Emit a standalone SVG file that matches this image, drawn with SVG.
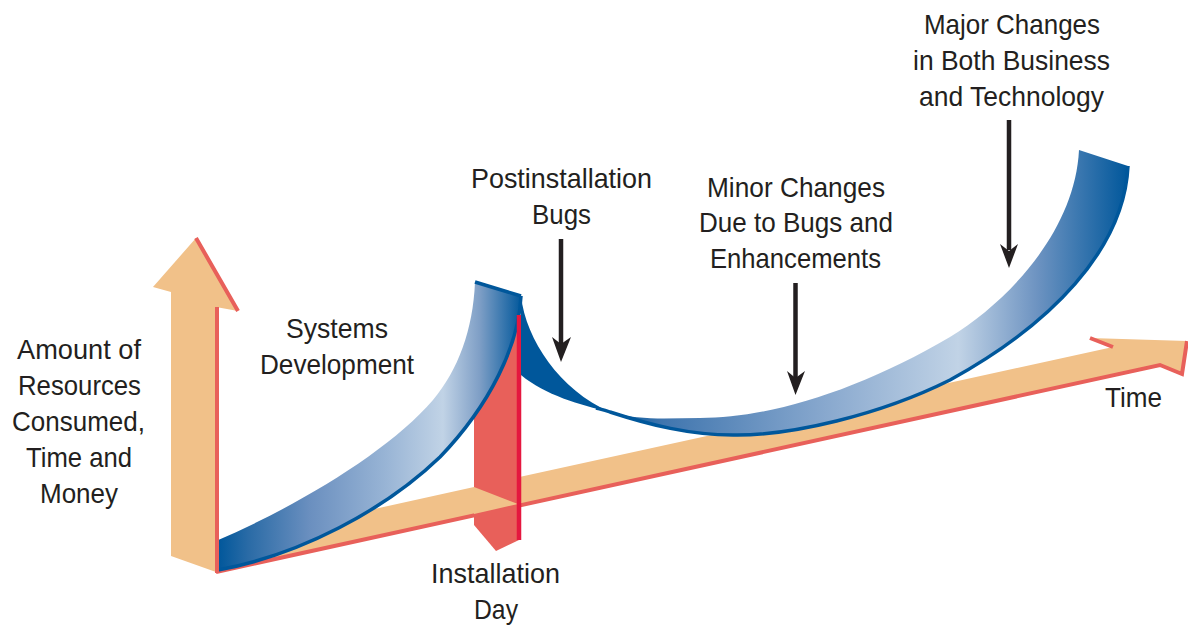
<svg xmlns="http://www.w3.org/2000/svg" width="1188" height="629" viewBox="0 0 1188 629">
<style>
text{font-family:"Liberation Sans",Arial,sans-serif;font-size:28.5px;fill:#231f20}
.tan{fill:#f1c189}
.red{fill:none;stroke:#e8605a;stroke-width:4}
.edge{fill:none;stroke:#00579b;stroke-width:3.5;stroke-linejoin:round}
.blk{fill:#231f20}
.shaft{stroke:#231f20;stroke-width:4.5}
</style>
<defs>
<linearGradient id="g1" gradientUnits="userSpaceOnUse" x1="218" y1="0" x2="522" y2="0">
<stop offset="0" stop-color="#00579b"/><stop offset=".1" stop-color="#2a6ba6"/><stop offset=".3" stop-color="#6a8fbf"/><stop offset=".55" stop-color="#98b4d5"/><stop offset=".74" stop-color="#c1d3e6"/><stop offset=".86" stop-color="#7f9fc6"/><stop offset="1" stop-color="#00579b"/>
</linearGradient>
<linearGradient id="g2" gradientUnits="userSpaceOnUse" x1="522" y1="0" x2="1128" y2="0">
<stop offset="0" stop-color="#00579b"/><stop offset=".15" stop-color="#00579b"/><stop offset=".23" stop-color="#3f75ae"/><stop offset=".5" stop-color="#88a8ce"/><stop offset=".72" stop-color="#c1d3e6"/><stop offset=".85" stop-color="#6d93c1"/><stop offset="1" stop-color="#00579b"/>
</linearGradient>
</defs>
<g id="time-axis">
<path class="tan" d="M216 572L216 544L474 487L1113 347L1090 338L1187 341L1182 374L1160 365Z"/>
<path class="red" d="M216 572L1160 365L1182 374L1187 341M1090 338L1113 347"/>
</g>
<g id="installation-day">
<path fill="#e8605a" d="M474 400V525L496 551L519 540V310Z"/>
<path class="tan" d="M474 487L518 504L474 514Z"/>
</g>
<g id="systems-development">
<path fill="url(#g1)" d="M216 541C300 505 390 450 433 400C458 370 473 330 475 282L521 296C519 345 490 405 440 457C385 510 300 555 216 571Z"/>
<path class="edge" d="M521 296C519 345 490 405 440 457C385 510 300 555 218 570"/>
<path class="edge" d="M475 282L521 296"/>
</g>
<g id="resources-axis">
<path class="tan" d="M196 238L153 287L171 292V556L216 572V307L238 311Z"/>
<path class="red" d="M217 307V573M196 238L238 311"/>
</g>
<g id="installation-line">
<path fill="none" stroke="#e5173f" stroke-width="4.5" d="M519 315V540"/>
</g>
<g id="maintenance">
<path fill="url(#g2)" d="M521 296C526 340 560 390 610 412C640 421 670 418 700 418C770 418 860 390 950 337C1010 300 1075 230 1079 150L1128 166C1124 250 1050 325 950 380C880 415 790 436 733 435C690 435 650 425 610 412C580 405 545 395 521 375Z"/>
<path class="edge" stroke-width="3" d="M596 408C600 409 605 410 610 412C650 425 690 435 733 435C790 436 880 415 950 380C1050 325 1124 250 1128 166"/>
</g>
<g id="connectors">
<path class="shaft" d="M561 239V345"/><path class="blk" d="M561 362L552 337L561 344L571 337Z"/>
<path class="shaft" d="M795.5 283V378"/><path class="blk" d="M795.5 395L787 371L795.5 378L805 371Z"/>
<path class="shaft" d="M1009 120V250"/><path class="blk" d="M1009 268L1000 244L1009 251L1018 244Z"/>
</g>
<g id="labels">
<text x="924" y="34" textLength="176" lengthAdjust="spacingAndGlyphs">Major Changes</text>
<text x="913" y="70" textLength="197" lengthAdjust="spacingAndGlyphs">in Both Business</text>
<text x="919" y="106" textLength="185" lengthAdjust="spacingAndGlyphs">and Technology</text>
<text x="471" y="188" textLength="181" lengthAdjust="spacingAndGlyphs">Postinstallation</text>
<text x="532" y="224" textLength="59" lengthAdjust="spacingAndGlyphs">Bugs</text>
<text x="707" y="197" textLength="178" lengthAdjust="spacingAndGlyphs">Minor Changes</text>
<text x="699" y="232" textLength="194" lengthAdjust="spacingAndGlyphs">Due to Bugs and</text>
<text x="710" y="268" textLength="171" lengthAdjust="spacingAndGlyphs">Enhancements</text>
<text x="286" y="338" textLength="102" lengthAdjust="spacingAndGlyphs">Systems</text>
<text x="260" y="374" textLength="154" lengthAdjust="spacingAndGlyphs">Development</text>
<text x="17" y="359" textLength="124" lengthAdjust="spacingAndGlyphs">Amount of</text>
<text x="18" y="395" textLength="123" lengthAdjust="spacingAndGlyphs">Resources</text>
<text x="12" y="431" textLength="133" lengthAdjust="spacingAndGlyphs">Consumed,</text>
<text x="26" y="467" textLength="106" lengthAdjust="spacingAndGlyphs">Time and</text>
<text x="40" y="503" textLength="78" lengthAdjust="spacingAndGlyphs">Money</text>
<text x="1105" y="407" textLength="57" lengthAdjust="spacingAndGlyphs">Time</text>
<text x="431" y="583" textLength="129" lengthAdjust="spacingAndGlyphs">Installation</text>
<text x="474" y="619" textLength="44" lengthAdjust="spacingAndGlyphs">Day</text>
</g>
</svg>
